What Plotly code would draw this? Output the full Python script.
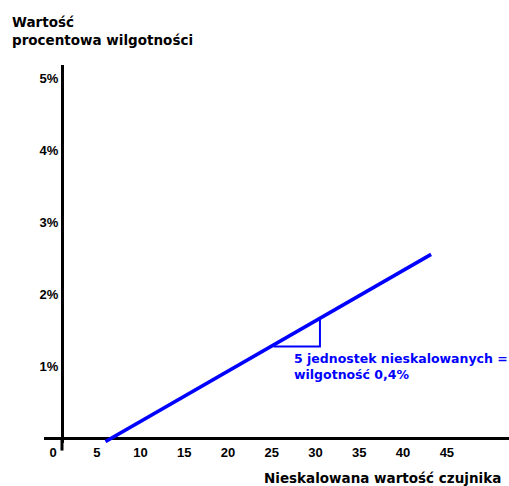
import plotly.graph_objects as go

# Data
line_x = [6.0, 43.2]          # raw (unscaled) sensor value
line_y = [-0.04, 2.56]        # moisture percentage
tri_x = [25.2, 30.5, 30.5]
tri_y = [1.28, 1.28, 1.67]
x_ticks = [0, 5, 10, 15, 20, 25, 30, 35, 40, 45]
y_ticks = [1, 2, 3, 4, 5]
y_tick_labels = ["1%", "2%", "3%", "4%", "5%"]

BLUE = "#0000FF"
FONT = "Liberation Sans"
TFONT = "DejaVu Sans"
YAXIS_POS = 0.0387

fig = go.Figure()
fig.add_trace(go.Scatter(x=line_x, y=line_y, mode="lines",
                         line=dict(color=BLUE, width=3.5), hoverinfo="skip"))
fig.add_trace(go.Scatter(x=tri_x, y=tri_y, mode="lines",
                         line=dict(color=BLUE, width=2), hoverinfo="skip"))

fig.update_layout(
    width=509, height=486,
    margin=dict(l=44, r=0, t=65, b=43, autoexpand=False),
    paper_bgcolor="white", plot_bgcolor="white",
    showlegend=False,
    font=dict(family=FONT, size=13, color="black"),
    xaxis=dict(range=[-1.03, 52.1], tickvals=x_ticks,
               ticktext=[f"<b>{v}</b>" for v in x_ticks],
               showgrid=False, zeroline=False, showline=False,
               ticks="", tickfont=dict(size=13), automargin=False),
    yaxis=dict(range=[-0.06, 5.19], tickvals=y_ticks,
               ticktext=[f"<b>{t}</b>" for t in y_tick_labels],
               showgrid=False, zeroline=True, zerolinecolor="black",
               zerolinewidth=3, showline=True, linecolor="black",
               linewidth=3, anchor="free", position=YAXIS_POS,
               ticks="", tickfont=dict(size=13), automargin=False),
)

# small downward extension of the vertical axis below the horizontal axis
fig.add_shape(type="line", xref="paper", yref="paper",
              x0=YAXIS_POS, x1=YAXIS_POS, y0=-0.02, y1=0.01,
              line=dict(color="black", width=3))

fig.add_annotation(xref="paper", yref="paper", x=-0.073, y=1.14,
                   xanchor="left", yanchor="top", align="left",
                   showarrow=False,
                   text="<b>Wartość<br>procentowa wilgotności</b>",
                   font=dict(size=13.5, color="black", family=TFONT))
fig.add_annotation(xref="paper", yref="paper", x=0.987, y=-0.0926,
                   xanchor="right", yanchor="middle", showarrow=False,
                   text="<b>Nieskalowana wartość czujnika</b>",
                   font=dict(size=13.5, color="black", family=TFONT))
fig.add_annotation(xref="x", yref="y", x=27.3, y=1.0,
                   xanchor="left", yanchor="middle", align="left",
                   showarrow=False,
                   text="<b>5 jednostek nieskalowanych =<br>wilgotność 0,4%</b>",
                   font=dict(size=12.5, color=BLUE, family=TFONT))

fig.write_html(
    "out.html",
    config={"displayModeBar": False},
    post_script=("document.documentElement.style.margin='0';"
                 "document.body.style.margin='0';"
                 "document.body.style.overflow='hidden';"),
)
